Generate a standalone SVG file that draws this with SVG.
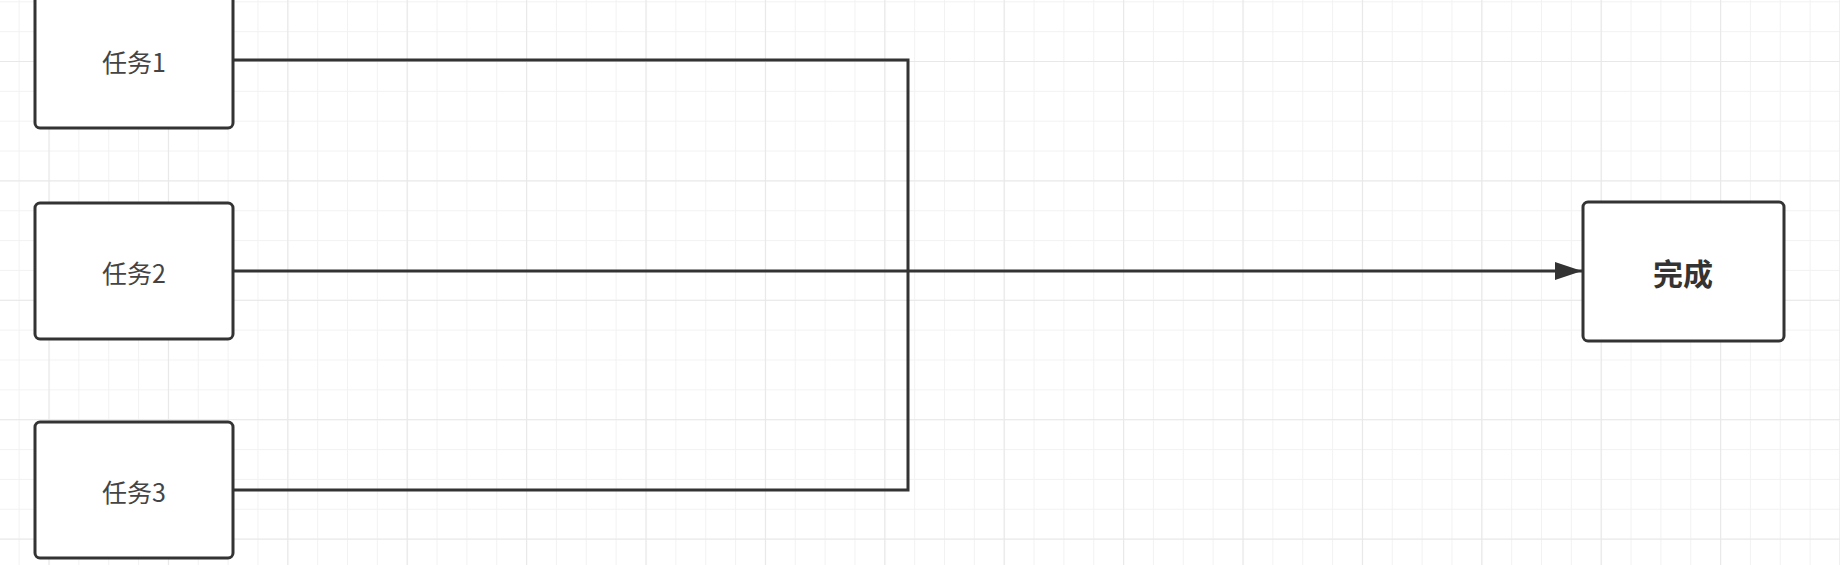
<svg xmlns="http://www.w3.org/2000/svg" width="1840" height="565" viewBox="0 0 1840 565">
<defs>
<pattern id="minor" x="48.5" y="1.3" width="29.85" height="29.85" patternUnits="userSpaceOnUse">
<path d="M0,0.5 H29.85 M0.5,0 V29.85" fill="none" stroke="#f2f2f2" stroke-width="1"/>
</pattern>
<pattern id="major" x="48.5" y="61" width="119.4" height="119.4" patternUnits="userSpaceOnUse">
<path d="M0,0.5 H119.4 M0.5,0 V119.4" fill="none" stroke="#e8e8e8" stroke-width="1.2"/>
</pattern>
<marker id="arrow" markerUnits="userSpaceOnUse" markerWidth="28" markerHeight="18" refX="27" refY="9" orient="auto">
<path d="M0,0 L27,9 L0,18 Z" fill="#333333"/>
</marker>
<style>
.box { fill: #ffffff; stroke: #333333; stroke-width: 3; }
.label { font-family: "Noto Sans CJK SC", "Noto Sans", sans-serif; font-size: 25px; fill: #444444; text-anchor: middle; dominant-baseline: central; }
.bold { font-size: 30px; font-weight: bold; fill: #333333; }
.edge { fill: none; stroke: #333333; stroke-width: 3; stroke-linejoin: miter; }
</style>
</defs>
<rect x="0" y="0" width="1840" height="565" fill="#ffffff"/>
<rect x="0" y="0" width="1840" height="565" fill="url(#minor)"/>
<rect x="0" y="0" width="1840" height="565" fill="url(#major)"/>
<g id="connectors">
<path class="edge" d="M233,60 H908 V271"/>
<path class="edge" d="M233,490 H908 V271"/>
<path class="edge" d="M233,271 H1582" marker-end="url(#arrow)"/>
</g>
<g id="task1">
<rect class="box" x="35" y="-8" width="198" height="136" rx="5"/>
<text class="label" x="134" y="61">任务1</text>
</g>
<g id="task2">
<rect class="box" x="35" y="203" width="198" height="136" rx="5"/>
<text class="label" x="134" y="272">任务2</text>
</g>
<g id="task3">
<rect class="box" x="35" y="422" width="198" height="136" rx="5"/>
<text class="label" x="134" y="491">任务3</text>
</g>
<g id="done">
<rect class="box" x="1583" y="202" width="201" height="139" rx="5"/>
<text class="label bold" x="1683" y="272">完成</text>
</g>
</svg>
